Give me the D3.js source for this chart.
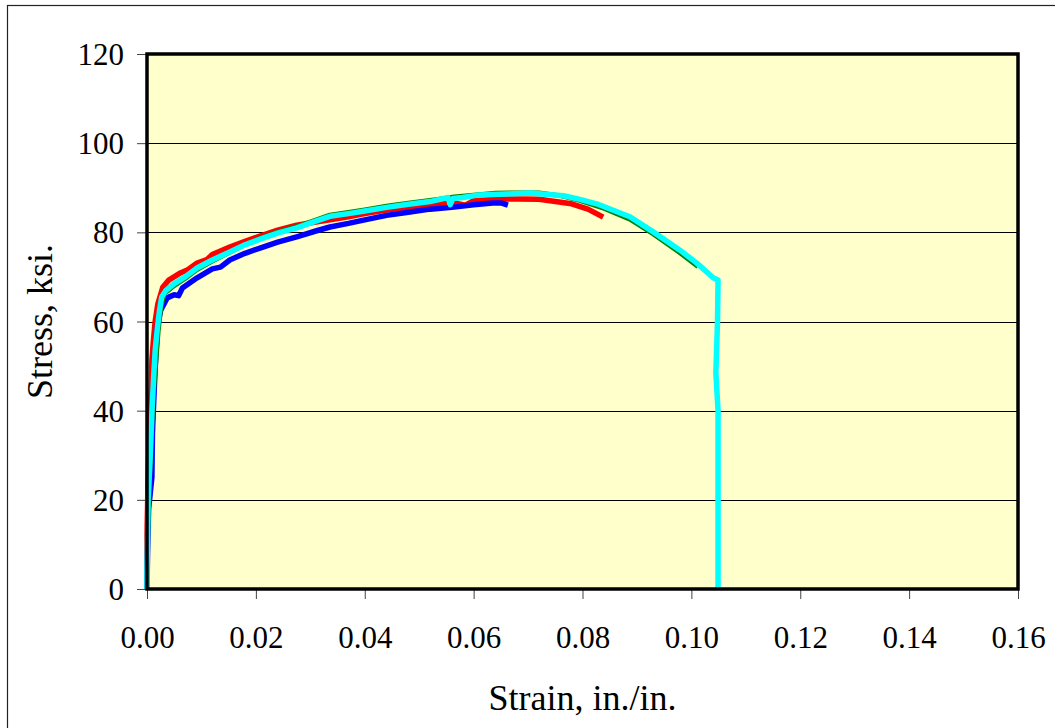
<!DOCTYPE html>
<html>
<head>
<meta charset="utf-8">
<script src="https://cdn.jsdelivr.net/npm/d3@7"></script>
<style>
  html, body { margin: 0; padding: 0; background: #fff; }
  svg { display: block; }
  .tick text { font-family: "Liberation Serif", "Times New Roman", serif; }
</style>
</head>
<body>
<svg id="chart" width="1055" height="728"></svg>
<script>
// 坐标轴刻度
const xTicks = [0, 0.02, 0.04, 0.06, 0.08, 0.10, 0.12, 0.14, 0.16];
const yTicks = [0, 20, 40, 60, 80, 100, 120];

// 试件曲线 [应变, 应力]
const specimenRed = [
  [0, 0], [0, 12], [0.0002, 25], [0.0005, 38], [0.0008, 46], [0.0009, 51.4],
  [0.0012, 56], [0.0015, 60], [0.002, 64], [0.0029, 67.7], [0.004, 69.3],
  [0.006, 70.8], [0.0075, 71.6], [0.0092, 73.1], [0.011, 73.9], [0.012, 75],
  [0.0152, 76.7], [0.018, 78], [0.0213, 79.4], [0.024, 80.5], [0.0275, 81.6],
  [0.031, 82.3], [0.0336, 82.8], [0.037, 83.5], [0.04, 84.2], [0.044, 85],
  [0.048, 85.6], [0.052, 86.2], [0.056, 86.7], [0.0585, 86.1], [0.06, 87.1],
  [0.064, 87.4], [0.068, 87.5], [0.072, 87.4], [0.074, 87.1], [0.078, 86.4],
  [0.081, 85.2], [0.0838, 83.4]
];
const specimenBlue = [
  [0, 0], [0.0001, 8], [0.0003, 18], [0.0009, 25], [0.001, 35], [0.0013, 44],
  [0.0016, 52], [0.0018, 56], [0.0019, 58.8], [0.0025, 62.5], [0.0037, 65.3],
  [0.005, 66], [0.0058, 65.8], [0.0065, 67.5], [0.0092, 69.8], [0.012, 71.8],
  [0.0135, 72.2], [0.0152, 73.8], [0.018, 75.3], [0.0213, 76.7], [0.024, 77.8],
  [0.0275, 79], [0.031, 80.3], [0.0336, 81.2], [0.037, 82], [0.04, 82.8],
  [0.044, 83.8], [0.048, 84.5], [0.052, 85.2], [0.056, 85.6], [0.06, 86.2],
  [0.0635, 86.6], [0.065, 86.6], [0.0663, 86.1]
];
const specimenGreen = [
  [0, 0], [0.0001, 10], [0.0004, 22], [0.0007, 31], [0.0011, 42], [0.0016, 50],
  [0.0021, 58], [0.0026, 63.5], [0.0032, 66.2], [0.005, 68], [0.007, 69.6],
  [0.0092, 71.6], [0.012, 73.5], [0.0152, 75.5], [0.018, 77.3], [0.0213, 78.9],
  [0.024, 80.1], [0.0275, 81.3], [0.031, 82.8], [0.0336, 83.9], [0.037, 84.5],
  [0.04, 85.1], [0.044, 85.9], [0.048, 86.6], [0.052, 87.2], [0.056, 87.9],
  [0.06, 88.4], [0.064, 88.8], [0.068, 88.9], [0.072, 88.9], [0.076, 88.2],
  [0.0795, 87.1], [0.084, 85.3], [0.0887, 82.9], [0.093, 79.6], [0.0979, 75.4],
  [0.1012, 72.3]
];
const specimenCyan = [
  [0, 0], [0, 4], [0.0002, 20], [0.0006, 30], [0.0009, 39.5], [0.0012, 47],
  [0.0015, 53.5], [0.0019, 58.5], [0.0023, 62.5], [0.0027, 65.5], [0.0035, 67],
  [0.005, 68.5], [0.007, 70], [0.0092, 72], [0.012, 73.8], [0.0152, 75.6],
  [0.018, 77.2], [0.0213, 78.7], [0.024, 79.8], [0.0275, 81], [0.031, 82.5],
  [0.0336, 83.6], [0.037, 84.2], [0.04, 84.8], [0.044, 85.6], [0.048, 86.3],
  [0.052, 86.9], [0.0553, 87.8], [0.0557, 86.2], [0.0562, 87.6], [0.058, 87.8],
  [0.061, 88.4], [0.066, 88.6], [0.0704, 88.8], [0.0765, 88.2], [0.0795, 87.4],
  [0.0826, 86.4], [0.0887, 83.5], [0.093, 80.1], [0.0979, 76], [0.101, 73.1],
  [0.104, 69.8], [0.1049, 69.3], [0.1048, 60], [0.1045, 48.5], [0.1049, 40],
  [0.1049, 0]
];

const series = [
  { data: specimenRed, color: '#ff0000', width: 5.5 },
  { data: specimenBlue, color: '#0000ff', width: 5.5 },
  { data: specimenGreen, color: '#008000', width: 4.5 },
  { data: specimenCyan, color: '#00ffff', width: 5.5 }
];

const svg = d3.select('#chart');
const plot = { left: 147, top: 54, right: 1018, bottom: 589 };

const x = d3.scaleLinear().domain([0, 0.16]).range([plot.left, plot.right]);
const y = d3.scaleLinear().domain([0, 120]).range([plot.bottom, plot.top]);

// 外框
svg.append('rect')
  .attr('x', 7.5).attr('y', 5.5)
  .attr('width', 1200).attr('height', 900)
  .attr('fill', '#fff')
  .attr('stroke', '#222')
  .attr('stroke-width', 1.2);

// 绘图区背景
svg.append('rect')
  .attr('x', plot.left).attr('y', plot.top)
  .attr('width', plot.right - plot.left).attr('height', plot.bottom - plot.top)
  .attr('fill', '#ffffcc');

// 网格线
svg.append('g')
  .selectAll('line')
  .data(yTicks.filter(d => d > 0 && d < 120))
  .enter().append('line')
  .attr('x1', plot.left).attr('x2', plot.right)
  .attr('y1', d => Math.round(y(d)) + 0.5).attr('y2', d => Math.round(y(d)) + 0.5)
  .attr('stroke', '#000')
  .attr('stroke-width', 1.2);

// 坐标轴
const xAxis = svg.append('g')
  .attr('transform', `translate(0,${plot.bottom})`)
  .call(d3.axisBottom(x).tickValues(xTicks).tickFormat(d3.format('.2f')).tickSize(10).tickSizeOuter(0));
xAxis.select('.domain').remove();
xAxis.selectAll('.tick line').attr('stroke', '#444');
xAxis.selectAll('.tick text')
  .attr('y', 59).attr('dy', 0)
  .attr('font-size', 31).attr('fill', '#000');

const yAxis = svg.append('g')
  .attr('transform', `translate(${plot.left},0)`)
  .call(d3.axisLeft(y).tickValues(yTicks).tickSize(10).tickPadding(13).tickSizeOuter(0));
yAxis.select('.domain').remove();
yAxis.selectAll('.tick line').attr('stroke', '#444');
yAxis.selectAll('.tick text')
  .attr('dy', '0.34em')
  .attr('font-size', 31).attr('fill', '#000');

// 曲线
const line = d3.line()
  .x(d => x(d[0]))
  .y(d => y(d[1]));

svg.append('g')
  .selectAll('path')
  .data(series)
  .enter().append('path')
  .attr('d', d => line(d.data))
  .attr('fill', 'none')
  .attr('stroke', d => d.color)
  .attr('stroke-width', d => d.width)
  .attr('stroke-linejoin', 'round');

// 绘图区边框
svg.append('rect')
  .attr('x', plot.left).attr('y', plot.top)
  .attr('width', plot.right - plot.left).attr('height', plot.bottom - plot.top)
  .attr('fill', 'none')
  .attr('stroke', '#000')
  .attr('stroke-width', 3.5);

// 坐标轴标题
svg.append('text')
  .attr('x', (plot.left + plot.right) / 2).attr('y', 710)
  .attr('text-anchor', 'middle')
  .attr('font-family', '"Liberation Serif", "Times New Roman", serif')
  .attr('font-size', 36)
  .text('Strain, in./in.');

svg.append('text')
  .attr('transform', `translate(52,${(plot.top + plot.bottom) / 2}) rotate(-90)`)
  .attr('text-anchor', 'middle')
  .attr('font-family', '"Liberation Serif", "Times New Roman", serif')
  .attr('font-size', 36)
  .text('Stress, ksi.');
</script>
</body>
</html>
